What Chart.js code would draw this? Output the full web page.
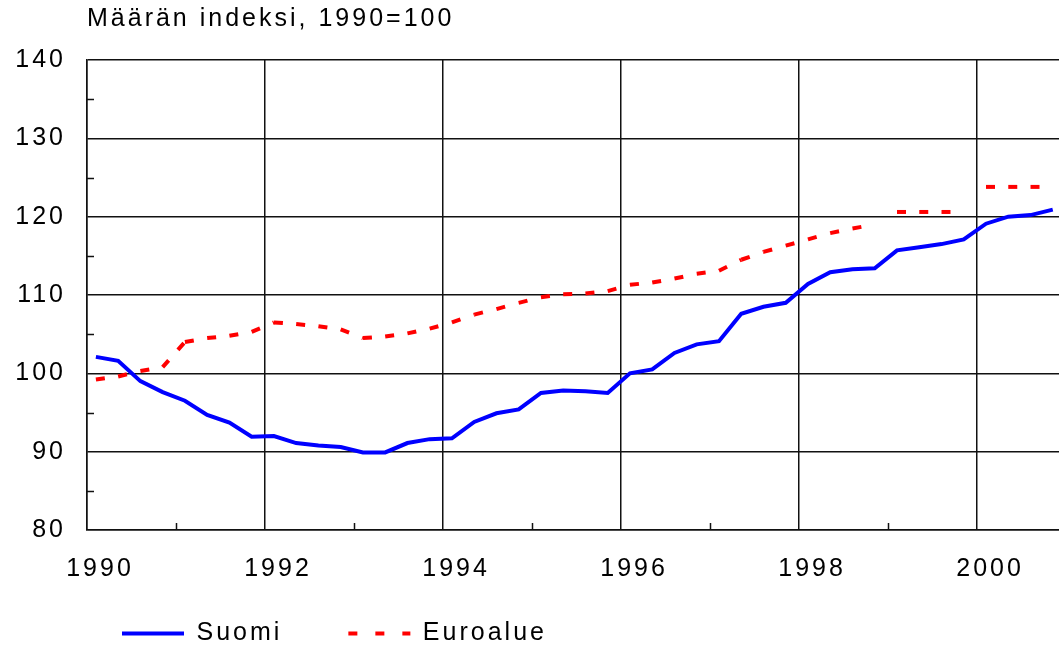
<!DOCTYPE html>
<html lang="fi">
<head>
<meta charset="utf-8">
<title>Määrän indeksi, 1990=100</title>
<script src="https://cdn.jsdelivr.net/npm/chart.js@4.4.1/dist/chart.umd.min.js"></script>
<style>
  html, body { margin: 0; padding: 0; background: #fff; }
  #wrap { position: relative; width: 1059px; height: 648px; }
</style>
</head>
<body>
<div id="wrap"><canvas id="chart"></canvas></div>
<script>
const TITLE = "Määrän indeksi, 1990=100";

// Neljännesvuodet
const quarters = [
  "1990Q1", "1990Q2", "1990Q3", "1990Q4",
  "1991Q1", "1991Q2", "1991Q3", "1991Q4",
  "1992Q1", "1992Q2", "1992Q3", "1992Q4",
  "1993Q1", "1993Q2", "1993Q3", "1993Q4",
  "1994Q1", "1994Q2", "1994Q3", "1994Q4",
  "1995Q1", "1995Q2", "1995Q3", "1995Q4",
  "1996Q1", "1996Q2", "1996Q3", "1996Q4",
  "1997Q1", "1997Q2", "1997Q3", "1997Q4",
  "1998Q1", "1998Q2", "1998Q3", "1998Q4",
  "1999Q1", "1999Q2", "1999Q3", "1999Q4",
  "2000Q1", "2000Q2", "2000Q3", "2000Q4",
];

const suomi = [
  102.1, 101.6, 99.0, 97.6,
  96.5, 94.7, 93.7, 91.9,
  92.0, 91.1, 90.8, 90.6,
  89.9, 89.9, 91.1, 91.6,
  91.7, 93.8, 94.9, 95.4,
  97.5, 97.8, 97.7, 97.5,
  100.0, 100.5, 102.6, 103.7,
  104.1, 107.6, 108.5, 109.0,
  111.4, 112.9, 113.3, 113.4,
  115.7, 116.1, 116.5, 117.1,
  119.1, 120.0, 120.2, 120.9,
];

const euroalue = [
  99.2, 99.6, 100.3, 100.8,
  104.0, 104.5, 104.8, 105.3,
  106.5, 106.3, 106.0, 105.6,
  104.5, 104.7, 105.1, 105.7,
  106.5, 107.5, 108.2, 109.0,
  109.7, 110.1, 110.2, 110.5,
  111.3, 111.6, 112.1, 112.7,
  113.1, 114.5, 115.5, 116.3,
  117.1, 117.9, 118.5, 119.0,
  120.6, 120.6, 120.6, 120.6,
  123.8, 123.8, 123.8, 123.8,
];

// Vuositason luvut, joita ei yhdistetä edelliseen vuoteen
const annualYears = [1999, 2000];

const labelYears = [1990, 1992, 1994, 1996, 1998, 2000];
const yLabels = [80, 90, 100, 110, 120, 130, 140];

const GRID = "#111";
const FONT_SIZE = 25;
const LETTER_SPACING = "3px";

Chart.defaults.font.family = '"Liberation Sans", Arial, sans-serif';
Chart.defaults.font.size = FONT_SIZE;
Chart.defaults.color = "#000";

// neljännes -> paikka vuosiasteikolla
function quarterPos(q) {
  const year = parseInt(q.slice(0, 4), 10);
  const n = parseInt(q.slice(5), 10);
  return year + (n - 0.6) / 4;
}

function startsAnnual(i) {
  const q = quarters[i];
  return q.endsWith("Q1") && annualYears.includes(parseInt(q.slice(0, 4), 10));
}

// Harvennettu teksti (kuten alkuperäisessä kuvassa)
const spacingPlugin = {
  id: "spacing",
  beforeUpdate(chart) {
    chart.ctx.letterSpacing = LETTER_SPACING;
  },
  beforeDraw(chart) {
    chart.ctx.letterSpacing = LETTER_SPACING;
  },
};

// Selite samaan kohtaan kuin alkuperäisessä
const legendPlacePlugin = {
  id: "legendPlace",
  afterLayout(chart) {
    chart.legend.left = 56;
    chart.legend.top = 555;
  },
};

// Pienet väliviivat akseleille
const minorTicksPlugin = {
  id: "minorTicks",
  afterDatasetsDraw(chart) {
    const { ctx, chartArea, scales } = chart;
    ctx.save();
    ctx.strokeStyle = GRID;
    ctx.lineWidth = 1.5;
    ctx.beginPath();
    scales.x.ticks.forEach((t) => {
      if (labelYears.includes(t.value)) return;
      const px = Math.round(scales.x.getPixelForValue(t.value)) + 0.5;
      ctx.moveTo(px, chartArea.bottom);
      ctx.lineTo(px, chartArea.bottom - 7);
    });
    scales.y.ticks.forEach((t) => {
      if (yLabels.includes(t.value)) return;
      const py = Math.round(scales.y.getPixelForValue(t.value)) + 0.5;
      ctx.moveTo(chartArea.left, py);
      ctx.lineTo(chartArea.left + 7, py);
    });
    ctx.stroke();
    ctx.restore();
  },
};

// Otsikko kuva-alueen vasempaan reunaan
const titlePlugin = {
  id: "topTitle",
  afterDraw(chart) {
    const { ctx, chartArea } = chart;
    ctx.save();
    ctx.font = FONT_SIZE + 'px "Liberation Sans", Arial, sans-serif';
    ctx.fillStyle = "#000";
    ctx.textBaseline = "middle";
    ctx.textAlign = "left";
    ctx.fillText(TITLE, chartArea.left, 19);
    ctx.restore();
  },
};

new Chart(document.getElementById("chart"), {
  type: "line",
  data: {
    datasets: [
      {
        label: "Suomi",
        data: suomi.map((v, i) => ({ x: quarterPos(quarters[i]), y: v })),
        borderColor: "#0000ff",
        backgroundColor: "#0000ff",
        borderWidth: 4,
        pointRadius: 0,
        tension: 0,
      },
      {
        label: "Euroalue",
        data: euroalue.map((v, i) => ({ x: quarterPos(quarters[i]), y: v })),
        borderColor: "#ff0000",
        backgroundColor: "#ff0000",
        borderWidth: 4,
        borderDash: [9, 14],
        pointRadius: 0,
        tension: 0,
        segment: {
          borderColor: (ctx) => (startsAnnual(ctx.p1DataIndex) ? "transparent" : undefined),
          // katkoviiva alkaa alusta joka pisteessä
          borderDashOffset: (ctx) => (ctx.p0DataIndex % 2 ? 0.001 : 0),
        },
      },
    ],
  },
  options: {
    responsive: true,
    maintainAspectRatio: false,
    animation: false,
    layout: {
      padding: { left: 0, top: 60, right: 0, bottom: 0 },
    },
    scales: {
      x: {
        type: "linear",
        min: 1990,
        max: 2000.92,
        afterFit: (scale) => {
          scale.height = 56;
        },
        grid: {
          color: (ctx) => (labelYears.includes(ctx.tick.value) ? GRID : "transparent"),
          lineWidth: 1.5,
          drawTicks: false,
        },
        border: { color: GRID, width: 1.5 },
        ticks: {
          stepSize: 1,
          includeBounds: false,
          autoSkip: false,
          maxRotation: 0,
          padding: 24,
          labelOffset: 13,
          color: "#000",
          callback: (v) => (labelYears.includes(v) ? String(v) : ""),
        },
      },
      y: {
        min: 80,
        max: 140,
        afterFit: (scale) => {
          scale.width = 87;
        },
        grid: {
          color: (ctx) => (yLabels.includes(ctx.tick.value) ? GRID : "transparent"),
          lineWidth: 1.5,
          drawTicks: false,
        },
        border: { color: GRID, width: 1.5 },
        ticks: {
          stepSize: 5,
          autoSkip: false,
          padding: 21,
          color: "#000",
          callback: (v) => (yLabels.includes(v) ? String(v) : ""),
        },
      },
    },
    plugins: {
      title: { display: false },
      tooltip: { enabled: false },
      legend: {
        position: "bottom",
        align: "start",
        maxHeight: 62,
        labels: {
          usePointStyle: true,
          pointStyle: "line",
          pointStyleWidth: 62,
          padding: 66,
          color: "#000",
          font: { size: FONT_SIZE },
          generateLabels: (chart) =>
            chart.data.datasets.map((ds, i) => ({
              text: ds.label,
              strokeStyle: ds.borderColor,
              fillStyle: ds.borderColor,
              fontColor: "#000",
              lineWidth: ds.borderWidth,
              lineDash: ds.borderDash ? [9, 18] : [],
              lineCap: "butt",
              pointStyle: "line",
              datasetIndex: i,
            })),
        },
      },
    },
  },
  plugins: [spacingPlugin, legendPlacePlugin, minorTicksPlugin, titlePlugin],
});
</script>
</body>
</html>
